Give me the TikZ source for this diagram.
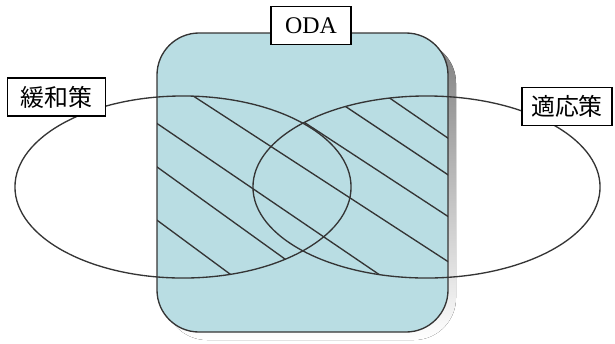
\documentclass[tikz,border=0pt]{standalone}
\usepackage{fontspec}
\setmainfont{Liberation Serif}
\newfontfamily\jpfont{Noto Sans CJK JP}
\usepackage{tikz}
\usetikzlibrary{positioning}
\usepackage{xcolor}
\definecolor{odafill}{HTML}{B9DDE3}
\definecolor{shade}{HTML}{7E7E7E}
\definecolor{ink}{HTML}{353535}
\tikzset{labelbox/.style={draw=black,fill=white,line width=1pt,minimum height=0.95cm,inner sep=2pt,font=\fontsize{17}{20}\selectfont},
  ring/.style={draw=ink,line width=0.95pt},
  hatch/.style={draw=ink,line width=0.95pt}}

\begin{document}
\begin{tikzpicture}[x=0.025cm,y=-0.025cm]
    \useasboundingbox (0,0) rectangle (615,343);
    \fill[shade,rounded corners=1.05cm] (165,41) rectangle (456,340);
    \draw[ink,fill=odafill,line width=0.95pt,rounded corners=1.05cm] (157,33) rectangle (448,332);
    \begin{scope}
      \clip[rounded corners=1.05cm] (157,33) rectangle (448,332);
      \clip (183,187) ellipse [x radius=4.2cm,y radius=2.275cm] (426.5,187) ellipse [x radius=4.3375cm,y radius=2.275cm];
      \foreach \ya/\yb in {-66.6/146.4,-23.9/182.8,21.3/224.3,67.9/269.4,118.7/329.5,161.9/385,215/443.8}
        \draw[hatch] (150,\ya) -- (460,\yb);
    \end{scope}
    \draw[ring] (183,187) ellipse [x radius=4.2cm,y radius=2.275cm];
    \draw[ring] (426.5,187) ellipse [x radius=4.3375cm,y radius=2.275cm];
    \node[labelbox,minimum width=2.45cm] (mitig) at (56.5,97) {\jpfont 緩和策};
    \node[labelbox,minimum width=2cm] (oda) at (311,25.5) {ODA};
    \node[labelbox,minimum width=2.25cm] (adapt) at (567,106.5) {\jpfont 適応策};
  \end{tikzpicture}
\end{document}
